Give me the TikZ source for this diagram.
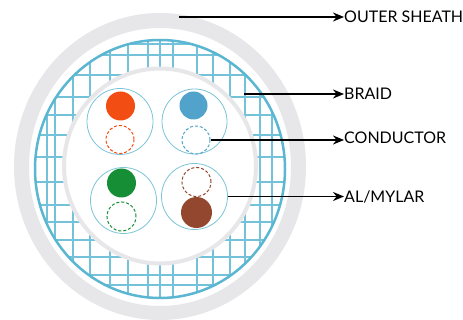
\documentclass[tikz,border=0pt]{standalone}
\usepackage{fontspec}
\setmainfont{Lato}
\usetikzlibrary{arrows.meta}
\definecolor{sheath}{HTML}{E7E7EA}
\definecolor{braidblue}{HTML}{5BB6D2}
\definecolor{gridblue}{HTML}{74C2DA}
\definecolor{pairline}{HTML}{7CC4D8}
\definecolor{corange}{HTML}{F24E13}
\definecolor{cblue}{HTML}{52A3CC}
\definecolor{cgreen}{HTML}{168E36}
\definecolor{cbrown}{HTML}{93472F}
\tikzset{
  pairbox/.style={draw=pairline, line width=0.8pt, fill=white},
  wire/.style={line width=0.1pt},
  dashwire/.style={line width=1pt, dash pattern=on 3pt off 2pt},
  leader/.style={draw=black, line width=1.8pt, -{Stealth[length=11pt,width=9pt]}},
  tag/.style={anchor=west, inner sep=0pt, font=\fontsize{16}{18}\selectfont},
}
\begin{document}
\begin{tikzpicture}[x=1pt,y=-1pt]
\useasboundingbox (0,0) rectangle (463,320);
\fill[white] (0,0) rectangle (463,320);

% outer sheath ring
\fill[sheath, even odd rule] (160,166.5) ellipse [x radius=146, y radius=153.5]
                             (160,167) ellipse [x radius=131, y radius=139];

% braid: woven grid inside the shield circle
\begin{scope}
  \clip (160,169) ellipse [x radius=125, y radius=129];
  \foreach \gx in {47,55,73,90,110,128,148,160,173,197,213,230,245,260,272}
    \draw[gridblue, line width=1.2pt] (\gx,30) -- (\gx,310);
  \foreach \gy in {44,55,75,97,115,135,157,182,205,222,240,257,275,285}
    \draw[gridblue, line width=1.2pt] (30,\gy) -- (290,\gy);
\end{scope}
\draw[braidblue, line width=2.5pt] (160,169) ellipse [x radius=125, y radius=129];

% al/mylar foil around the pairs
\filldraw[fill=white, draw=sheath, line width=4pt] (160,166) ellipse [x radius=96, y radius=97.5];

% twisted pairs
\node[pairbox, circle, minimum size=66pt, inner sep=0pt] (p1) at (120,121.5) {};
\node[pairbox, circle, minimum size=65pt, inner sep=0pt] (p2) at (194.5,121.5) {};
\node[pairbox, circle, minimum size=66pt, inner sep=0pt] (p3) at (123.5,200.5) {};
\node[pairbox, circle, minimum size=66pt, inner sep=0pt] (p4) at (194.5,196.5) {};

% conductors
\node[circle, fill=corange, minimum size=29pt, inner sep=0pt] (c1a) at (120.5,106) {};
\node[circle, draw=corange, dashwire, minimum size=28pt, inner sep=0pt] (c1b) at (120,139.5) {};
\node[circle, fill=cblue, minimum size=28pt, inner sep=0pt] (c2a) at (193.5,105.5) {};
\node[circle, draw=cblue, dashwire, minimum size=28pt, inner sep=0pt] (c2b) at (196,140) {};
\node[circle, fill=cgreen, minimum size=29pt, inner sep=0pt] (c3a) at (121.5,183) {};
\node[circle, draw=cgreen, dashwire, minimum size=29pt, inner sep=0pt] (c3b) at (121.5,216.5) {};
\node[circle, draw=cbrown, dashwire, minimum size=29pt, inner sep=0pt] (c4b) at (196.5,182) {};
\node[circle, fill=cbrown, minimum size=31pt, inner sep=0pt] (c4a) at (196.5,212.5) {};

% labels and leaders
\coordinate (sheathpt) at (179,17);
\coordinate (braidpt) at (244,94);
\node[tag] (lsheath) at (344,17) {OUTER SHEATH};
\node[tag] (lbraid) at (344,94) {BRAID};
\node[tag] (lcond) at (344,138) {CONDUCTOR};
\node[tag] (lfoil) at (344,197) {AL/MYLAR};
\draw[leader] (sheathpt) -- (lsheath.west);
\draw[leader] (braidpt) -- (lbraid.west);
\draw[leader] (c2b.east) -- (lcond.west |- c2b.east);
\draw[leader] (p4.east) -- (lfoil.west |- p4.east);
\end{tikzpicture}
\end{document}
